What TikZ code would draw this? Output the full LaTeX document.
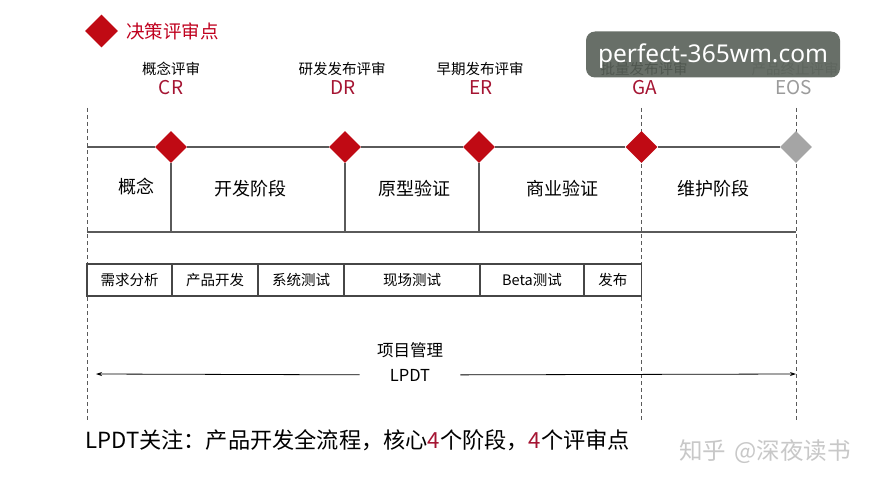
\documentclass[tikz,border=0pt]{standalone}
\usepackage{fontspec}
\setmainfont{Noto Sans CJK SC}
\newfontfamily\wmfont{Noto Sans}
\usetikzlibrary{arrows.meta,shapes.geometric}
\definecolor{dred}{RGB}{192,10,20}
\definecolor{lred}{RGB}{192,0,30}
\definecolor{cred}{RGB}{165,20,50}
\definecolor{dgray}{RGB}{90,90,90}
\definecolor{bgray}{RGB}{70,70,70}
\definecolor{lgray}{RGB}{165,165,165}
\definecolor{tgray}{RGB}{155,155,155}
\definecolor{wgray}{RGB}{200,200,200}
\definecolor{wmbox}{RGB}{88,96,88}
\tikzset{
  dia/.style={diamond, aspect=1, inner sep=0pt, minimum width=32pt, minimum height=32pt, fill=dred, draw=none},
  gline/.style={draw=dgray, line width=1.1pt},
  dline/.style={draw=dgray, line width=0.9pt, dash pattern=on 4pt off 3pt},
  rev/.style={inner sep=0pt, font=\fontsize{14.5}{16}\selectfont, text=black},
  code/.style={inner sep=0pt, font=\fontsize{19}{22}\selectfont, text=cred},
  phase/.style={inner sep=0pt, font=\fontsize{18}{20}\selectfont, text=black},
  sub/.style={draw=bgray, line width=1.1pt, minimum height=32pt, inner sep=0pt, font=\fontsize{14.5}{16}\selectfont},
  arr/.style={draw=black, line width=0.8pt, -{Stealth[length=6pt,width=4pt]}}
}
\begin{document}
\begin{tikzpicture}[x=1pt,y=-1pt]
\useasboundingbox (0,0) rectangle (871,487);
\fill[white] (0,0) rectangle (871,487);

% legend
\node[dia, minimum width=33pt, minimum height=33pt] (leg) at (101.5,31) {};
\node[inner sep=0pt, font=\fontsize{18.5}{20}\selectfont, text=lred, anchor=west] (legt) at (126,31) {决策评审点};

% review labels
\node[rev] (rCR) at (171,68.5) {概念评审};
\node[code] (cCR) at (171,88) {CR};
\node[rev] (rDR) at (342,68.5) {研发发布评审};
\node[code] (cDR) at (343,88) {DR};
\node[rev] (rER) at (480,68.5) {早期发布评审};
\node[code] (cER) at (481,88) {ER};
\node[rev] (rGA) at (644,68.5) {批量发布评审};
\node[code] (cGA) at (645,88) {GA};
\node[rev, text=tgray] (rEOS) at (795,68.5) {产品终止评审};
\node[code, text=tgray] (cEOS) at (794,88) {EOS};

% coordinates
\coordinate (tl) at (87,147);
\coordinate (bl) at (87,232);
\coordinate (br) at (796,232);
\coordinate (lt) at (87,108);
\coordinate (lb) at (87,420);
\coordinate (gt) at (641.5,108);
\coordinate (gb) at (641.5,420);
\coordinate (et) at (796,108);
\coordinate (eb) at (796,420);

% dashed guides
\draw[dline] (lt) -- (lb);
\draw[dline] (gt) -- (gb);
\draw[dline] (et) -- (eb);

% diamonds
\node[dia] (dCR) at (171,147) {};
\node[dia] (dDR) at (345,147) {};
\node[dia] (dER) at (479,147) {};
\node[dia] (dGA) at (641.5,147) {};
\node[dia, fill=lgray] (dEOS) at (796,147) {};

% top and bottom lines
\draw[gline] (tl) -- (dCR) -- (dDR) -- (dER) -- (dGA) -- (dEOS);
\draw[gline] (bl) -- (br);
\draw[gline] (dCR.south) -- (dCR |- bl);
\draw[gline] (dDR.south) -- (dDR |- bl);
\draw[gline] (dER.south) -- (dER |- bl);

% phases
\node[phase] (p1) at (136,187) {概念};
\node[phase] (p2) at (250,189) {开发阶段};
\node[phase] (p3) at (414,189) {原型验证};
\node[phase] (p4) at (562,189) {商业验证};
\node[phase] (p5) at (713,189) {维护阶段};

% sub activities
\node[sub, minimum width=85pt] (s1) at (129.5,280) {需求分析};
\node[sub, minimum width=86pt] (s2) at (215,280) {产品开发};
\node[sub, minimum width=86pt] (s3) at (301,280) {系统测试};
\node[sub, minimum width=136pt] (s4) at (412,280) {现场测试};
\node[sub, minimum width=104pt] (s5) at (532,280) {Beta测试};
\node[sub, minimum width=57.5pt] (s6) at (612.75,280) {发布};

% project management
\node[inner sep=0pt, font=\fontsize{16.5}{18}\selectfont] (pm) at (410,350) {项目管理};
\node[inner ysep=0pt, inner xsep=30pt, font=\fontsize{16.5}{18}\selectfont] (lpdt) at (410,375) {LPDT};
\coordinate (aL) at (96,374);
\coordinate (aR) at (796,374);
\draw[arr] (lpdt) -- (aL);
\draw[arr] (lpdt) -- (aR);

% bottom text
\node[inner sep=0pt, anchor=west, font=\fontsize{22.2}{24}\selectfont] (note) at (85,440) {LPDT关注：产品开发全流程，核心\textcolor{cred}{4}个阶段，\textcolor{cred}{4}个评审点};
\node[inner sep=0pt, anchor=east, font=\fontsize{23.5}{26}\selectfont, text=wgray] (zh) at (851,452) {知乎\hspace{0.35em}@深夜读书};

% watermark
\node[fill=wmbox, fill opacity=0.9, rounded corners=9pt, minimum width=254pt, minimum height=46pt, inner sep=0pt] (wm) at (713,54.5) {};
\node[inner sep=0pt, text=white, font=\wmfont\fontsize{24.5}{26}\selectfont] (wmt) at (713,56) {perfect-365wm.com};
\end{tikzpicture}
\end{document}
